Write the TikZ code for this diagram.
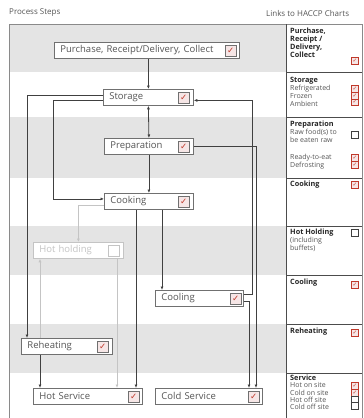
\documentclass[tikz,border=0pt]{standalone}
\usepackage{fontspec}
\setmainfont{Open Sans}
\newfontfamily\symfont{DejaVu Sans}
\usetikzlibrary{arrows.meta,calc}
\definecolor{band}{HTML}{E4E4E4}
\definecolor{framecol}{HTML}{8A8A8A}
\definecolor{boxline}{HTML}{707070}
\definecolor{txt}{HTML}{555555}
\definecolor{faint}{HTML}{C4C4C4}
\definecolor{chkred}{HTML}{C0392B}
\definecolor{chkfill}{HTML}{F6E6E6}
\newcommand\hd[1]{{\bfseries\color{black!85}\fontsize{7.3}{8}\selectfont #1}}
\newcommand\tick{{\symfont\color{chkred}✓}}
\begin{document}
\begin{tikzpicture}[x=1pt,y=-1pt,
  procbox/.style={draw=boxline,line width=0.8pt,fill=white,minimum height=16pt,
    inner xsep=6pt,inner ysep=0pt,align=left,anchor=north west,
    font=\fontsize{9.5}{10}\selectfont,text=txt},
  fadedbox/.style={procbox,draw=faint,text=faint},
  cbox/.style={draw=boxline,line width=0.6pt,fill=chkfill,minimum size=11pt,inner sep=0pt,
    font=\fontsize{8.5}{8.5}\selectfont},
  fadedcbox/.style={cbox,draw=faint,fill=white},
  rcb/.style={draw=chkred,line width=0.5pt,fill=chkfill,minimum size=6.6pt,inner sep=0pt,
    font=\fontsize{5.5}{5.5}\selectfont},
  rcbempty/.style={rcb,draw=black!75,fill=white},
  rtext/.style={anchor=north west,align=left,inner sep=0pt,text=txt,
    font=\fontsize{7}{8}\selectfont},
  arr/.style={draw=black!75,line width=0.8pt,-{Latex[length=3.5pt,width=3pt]}},
  fadedarr/.style={arr,draw=faint},
  sep/.style={draw=black!70,line width=0.8pt}
]
\useasboundingbox (0,0) rectangle (364,418);
% bands
\fill[band] (9,24) rectangle (286,72);
\fill[band] (9,117) rectangle (286,178);
\fill[band] (9,226) rectangle (286,275);
\fill[band] (9,324) rectangle (286,373);
% frame
\draw[framecol,line width=0.8pt] (9,420) -- (9,24) -- (362,24) -- (362,420);
\draw[sep] (286,24) -- (286,420);
\foreach \yy in {72,117,178,226,275,324,373} \draw[sep] (286,\yy) -- (362,\yy);
% titles
\node[anchor=west,inner sep=0pt,font=\fontsize{8}{9}\selectfont,text=txt] (title) at (9,13) {Process Steps};
\node[anchor=west,inner sep=0pt,font=\fontsize{8}{9}\selectfont,text=txt] (links) at (266,13) {Links to HACCP Charts};
% process nodes
\node[procbox,text width=173pt] (purchase) at (54,42) {Purchase, Receipt/Delivery, Collect};
\node[procbox,text width=78pt] (storage) at (103,89) {Storage};
\node[procbox,text width=77pt] (prep) at (104,138) {Preparation};
\node[procbox,text width=77pt] (cooking) at (104,193) {Cooking};
\node[fadedbox,text width=78pt] (hotholding) at (33,242) {Hot holding};
\node[procbox,text width=76pt] (cooling) at (155,290) {Cooling};
\node[procbox,text width=79pt] (reheating) at (21,338) {Reheating};
\node[procbox,text width=97pt] (hotservice) at (33,388) {Hot Service};
\node[procbox,text width=95pt] (coldservice) at (155,388) {Cold Service};
% checkboxes in process nodes
\node[cbox] (purchasecb) at ([xshift=-9pt]purchase.east) {\tick};
\node[cbox] (storagecb) at ([xshift=-10pt]storage.east) {\tick};
\node[cbox] (prepcb) at ([xshift=-10pt]prep.east) {\tick};
\node[cbox] (cookingcb) at ([xshift=-10pt]cooking.east) {\tick};
\node[fadedcbox] (hotholdingcb) at ([xshift=-10pt]hotholding.east) {};
\node[cbox] (coolingcb) at ([xshift=-8pt]cooling.east) {\tick};
\node[cbox] (reheatingcb) at ([xshift=-10pt]reheating.east) {\tick};
\node[cbox] (hotservicecb) at ([xshift=-9pt]hotservice.east) {\tick};
\node[cbox] (coldservicecb) at ([xshift=-9pt]coldservice.east) {\tick};
% channel coordinates
\coordinate (cA) at (27,0);
\coordinate (cB) at (53,0);
\coordinate (cD) at (40,0);
\coordinate (cE) at (117,0);
\coordinate (cF) at (136,0);
\coordinate (cG) at (162,0);
\coordinate (cH) at (252,0);
\coordinate (cI) at (256,0);
\coordinate (cJ) at (249,0);
\coordinate (stW1) at ([yshift=2pt]storage.west);
\coordinate (stW2) at ([yshift=-3pt]storage.west);
\coordinate (ckW1) at ([yshift=2.5pt]cooking.west);
\coordinate (ckW2) at ([yshift=-3.5pt]cooking.west);
\coordinate (stE) at ([yshift=-3pt]storage.east);
\coordinate (coE1) at ([yshift=4pt]cooling.east);
\coordinate (coE2) at ([yshift=-3pt]cooling.east);
% connectors
\draw[arr] (storage.north |- purchase.south) -- (storage.north);
\draw[arr,{Latex[length=3.5pt,width=3pt]}-{Latex[length=3.5pt,width=3pt]}] (storage.south) -- (prep.north);
\draw[arr] (prep.south) -- (cooking.north);
\draw[arr] (stW1) -| (reheating.north -| cA);
\draw[arr] (stW2) -| (ckW1 -| cB) -- (ckW1);
\draw[fadedarr] (ckW2) -| (hotholding.north);
\draw[fadedarr] (reheating.north -| cD) -- (hotholding.south -| cD);
\draw[fadedarr] (hotholding.south -| cE) -- (hotservice.north -| cE);
\draw[arr] (reheating.south -| cD) -- (hotservice.north -| cD);
\draw[arr] (cooking.south -| cF) -- (hotservice.north -| cF);
\draw[arr] (cooking.south -| cG) -- (cooling.north -| cG);
\draw[arr] (coE1) -| (stE -| cH) -- (stE);
\draw[arr] (prep.east) -| (coldservice.north -| cI);
\draw[arr] (coE2) -| (coldservice.north -| cJ);
% right panel texts
\node[rtext] (rpurchase) at (290,28) {\hd{Purchase,}\\\hd{Receipt /}\\\hd{Delivery,}\\\hd{Collect}};
\node[rtext] (rstorage) at (290,77) {\hd{Storage}\\Refrigerated\\Frozen\\Ambient};
\node[rtext] (rprep) at (290,121) {\hd{Preparation}\\Raw food(s) to\\be eaten raw};
\node[rtext] (rprep2) at (290,154) {Ready-to-eat\\Defrosting};
\node[rtext] (rcooking) at (290,181) {\hd{Cooking}};
\node[rtext] (rhot) at (290,229) {\hd{Hot Holding}\\(including\\buffets)};
\node[rtext] (rcooling) at (290,279) {\hd{Cooling}};
\node[rtext] (rreheat) at (290,328) {\hd{Reheating}};
\node[rtext,font=\fontsize{7}{7.2}\selectfont] (rservice) at (290,375) {\hd{Service}\\Hot on site\\Cold on site\\Hot off site\\Cold off site};
% right panel checkboxes
\node[rcb] (rcb1) at (355,61) {\tick};
\node[rcb] (rcb2) at (355,89) {\tick};
\node[rcb] (rcb3) at (355,95.6) {\tick};
\node[rcb] (rcb4) at (355,102.2) {\tick};
\node[rcbempty] (rcb5) at (355,135) {};
\node[rcb] (rcb6) at (355,158) {\tick};
\node[rcb] (rcb7) at (355,164.6) {\tick};
\node[rcb] (rcb8) at (355,185) {\tick};
\node[rcbempty] (rcb9) at (355,233) {};
\node[rcb] (rcb10) at (355,285) {\tick};
\node[rcb] (rcb11) at (355,333) {\tick};
\node[rcb] (rcb12) at (355,386) {\tick};
\node[rcb] (rcb13) at (355,392.6) {\tick};
\node[rcbempty] (rcb14) at (355,399.2) {};
\node[rcbempty] (rcb15) at (355,405.8) {};
\end{tikzpicture}
\end{document}
